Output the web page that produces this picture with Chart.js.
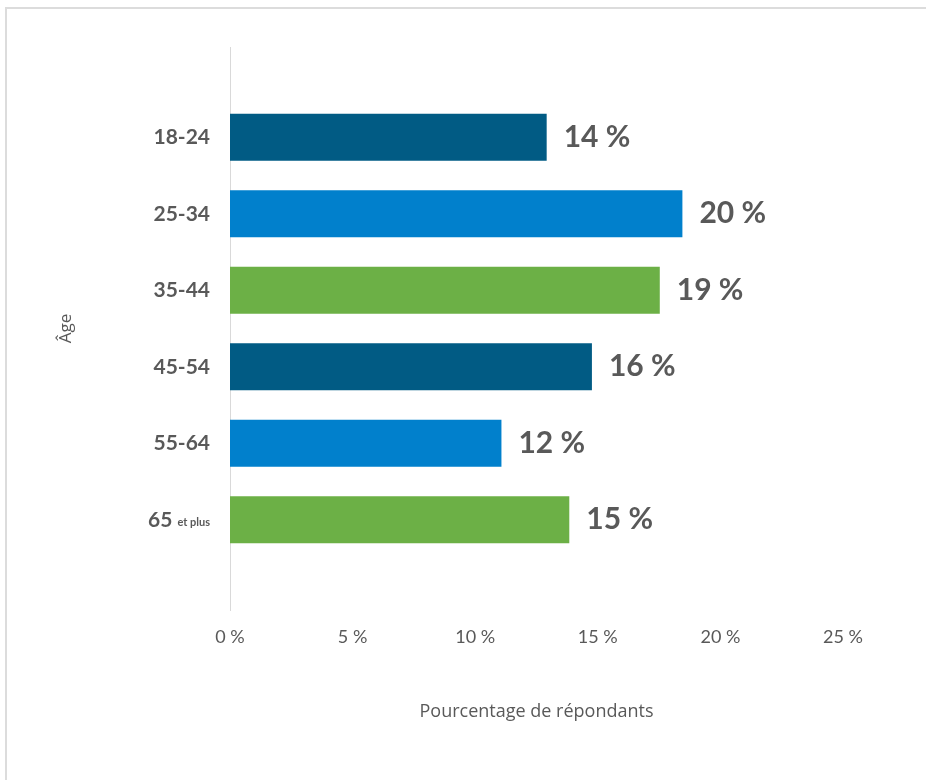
<!DOCTYPE html>
<html lang="fr">
<head>
<meta charset="utf-8">
<title>Répartition des répondants par âge</title>
<script src="https://cdn.jsdelivr.net/npm/chart.js@4"></script>
<style>
  html, body { margin: 0; padding: 0; background: #ffffff; }
  #wrap { position: relative; width: 926px; height: 780px; overflow: hidden; }
  #frame { position: absolute; left: 5px; top: 7px; width: 1000px; height: 900px;
           border-top: 2px solid #dcdcdc; border-left: 2px solid #dcdcdc; }
  canvas { position: absolute; left: 0; top: 0; }
</style>
</head>
<body>
<div id="wrap">
  <div id="frame"></div>
  <canvas id="chart" width="926" height="780"></canvas>
</div>
<script>
// Tranches d'âge (rangées du haut vers le bas)
const ageGroups = ['18-24', '25-34', '35-44', '45-54', '55-64', '65'];
// Suffixe en petits caractères accolé à certaines tranches
const ageSuffix = ['', '', '', '', '', 'et plus'];
// Part des répondants, en %
const shares = [14, 20, 19, 16, 12, 15];
// Graduations de l'axe horizontal
const axisTicks = [0, 5, 10, 15, 20, 25];

const barColors = ['#015b84', '#0180cc', '#6cb046', '#015b84', '#0180cc', '#6cb046'];
const grey = '#595959';

const fmtPct = v => v + ' %';

// Étiquettes des tranches d'âge, à gauche de l'axe
const ageLabels = {
  id: 'ageLabels',
  afterDraw(chart) {
    const { ctx } = chart;
    const y = chart.scales.y;
    const right = chart.chartArea.left - 20;
    ctx.save();
    ctx.fillStyle = grey;
    ctx.textBaseline = 'middle';
    ageGroups.forEach((g, i) => {
      const py = y.getPixelForValue(i);
      let x = right;
      if (ageSuffix[i]) {
        ctx.font = 'bold 11px Lato';
        ctx.textAlign = 'right';
        ctx.fillText(ageSuffix[i], x, py + 3);
        x -= ctx.measureText(ageSuffix[i]).width + 5;
      }
      ctx.font = 'bold 21px Lato';
      ctx.textAlign = 'right';
      ctx.fillText(g, x, py);
    });
    ctx.restore();
  }
};

// Valeur affichée au bout de chaque barre
const valueLabels = {
  id: 'valueLabels',
  afterDatasetsDraw(chart) {
    const { ctx } = chart;
    const meta = chart.getDatasetMeta(0);
    ctx.save();
    ctx.fillStyle = grey;
    ctx.font = 'bold 30px Lato';
    ctx.textAlign = 'left';
    ctx.textBaseline = 'middle';
    meta.data.forEach((bar, i) => {
      ctx.fillText(fmtPct(shares[i]), bar.x + 17, bar.y);
    });
    ctx.restore();
  }
};

new Chart(document.getElementById('chart'), {
  type: 'bar',
  data: {
    datasets: [{
      data: ageGroups.map((g, i) => ({ y: i, x: shares[i] })),
      backgroundColor: barColors,
      borderWidth: 0,
      xAxisID: 'xBars',
      categoryPercentage: 1,
      barPercentage: 0.615
    }]
  },
  options: {
    indexAxis: 'y',
    responsive: false,
    animation: false,
    layout: { padding: { top: 47, right: 83, left: 0, bottom: 0 } },
    plugins: { legend: { display: false }, tooltip: { enabled: false } },
    scales: {
      y: {
        type: 'linear',
        reverse: true,
        offset: false,
        min: -1.18,
        max: 6.18,
        grid: { display: false, offset: false },
        border: { display: true, color: '#d9d9d9', width: 1 },
        ticks: { display: false },
        title: {
          display: true,
          text: 'Âge',
          color: grey,
          font: { family: 'Open Sans', size: 17 },
          padding: { top: 56, bottom: 0 }
        },
        afterFit(scale) { scale.width = 230; }
      },
      x: {
        type: 'linear',
        position: 'bottom',
        min: 0,
        max: 25,
        afterBuildTicks(scale) { scale.ticks = axisTicks.map(v => ({ value: v })); },
        grid: { display: false, drawTicks: false },
        border: { display: false },
        ticks: {
          color: grey,
          font: { family: 'Lato', size: 18 },
          padding: 16,
          callback: v => fmtPct(v)
        },
        title: {
          display: true,
          text: 'Pourcentage de répondants',
          color: grey,
          font: { family: 'Open Sans', size: 18 },
          padding: { top: 0, bottom: 57 }
        },
        afterFit(scale) { scale.height = 170; }
      },
      xBars: {
        type: 'linear',
        display: false,
        min: 0,
        max: 27.1
      }
    }
  },
  plugins: [ageLabels, valueLabels]
});
</script>
</body>
</html>
